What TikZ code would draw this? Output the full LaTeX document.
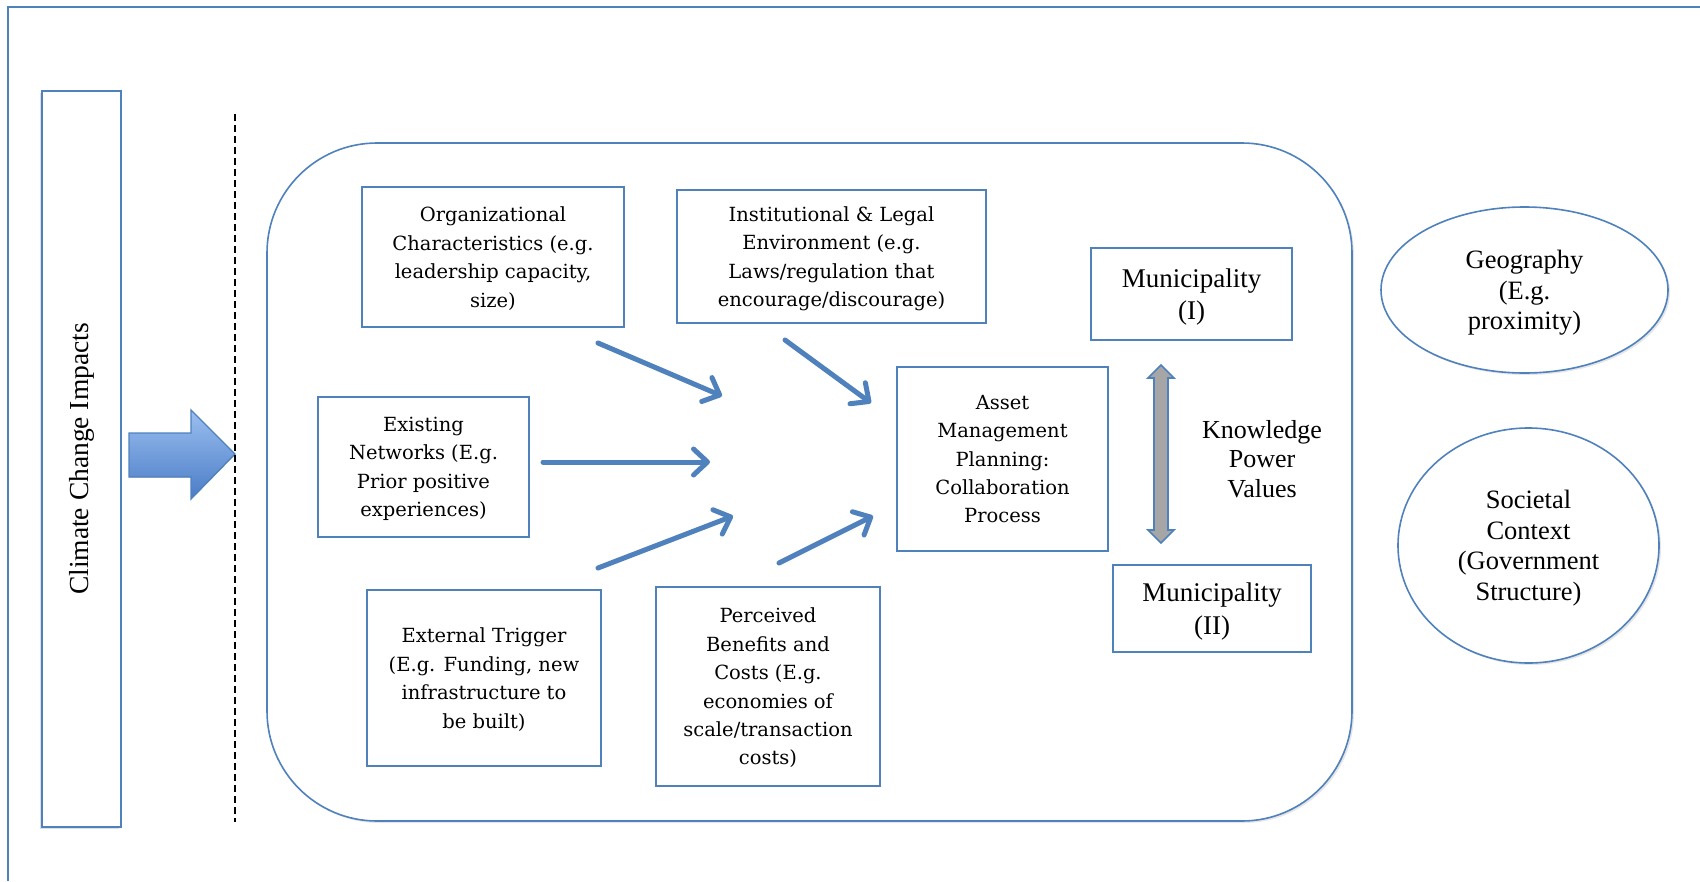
\documentclass[tikz,border=0pt]{standalone}
\usepackage{fontspec}
\setmainfont{Liberation Serif}
\newfontfamily\boxfont{DejaVu Serif}
\usepackage{xcolor}
\usepackage{tikz}
\usetikzlibrary{arrows.meta,shapes.geometric,shadows}

\definecolor{lineblue}{HTML}{4F81BD}
\definecolor{lightblue}{HTML}{9BBFF0}
\definecolor{deepblue}{HTML}{4A7CC6}
\definecolor{linkgrey}{HTML}{A6A6A6}

\begin{document}
\begin{tikzpicture}[x=1pt, y=-1pt,
    factor/.style={draw=lineblue, line width=1.6pt, align=center, inner sep=2pt,
        text depth=0pt, font=\boxfont\fontsize{19.5}{28.4}\selectfont},
    muni/.style={draw=lineblue, line width=1.6pt, align=center, text depth=0pt,
        font=\fontsize{27}{32.5}\selectfont},
    context/.style={ellipse, draw=lineblue, line width=1.6pt, align=center, fill=white,
        text depth=0pt, font=\fontsize{26.5}{30.5}\selectfont,
        drop shadow={shadow xshift=2pt, shadow yshift=-2pt, opacity=.2}},
    flow/.style={draw=lineblue, line width=5pt, line cap=round,
        -{Straight Barb[length=14pt, width=26pt, round]}}]
    \useasboundingbox (0,0) rectangle (1700,881);
    % frame
    \draw[lineblue, line width=2pt] (1700,7) -- (8,7) -- (8,881);
    % impacts
    \node[draw=lineblue, line width=1.6pt, fill=white, rotate=90,
        minimum width=736pt, minimum height=79pt,
        font=\fontsize{27.5}{30}\selectfont,
        drop shadow={shadow xshift=-2pt, shadow yshift=-2pt, opacity=.25}]
        (climate) at (81.5,459) {Climate Change Impacts};
    \filldraw[draw=lineblue, line width=1.4pt, top color=lightblue, bottom color=deepblue]
        (129,433) -- (191,433) -- (191,410) -- (235,454) -- (191,499)
        -- (191,477) -- (129,477) -- cycle;
    \draw[line width=2.5pt, dash pattern=on 7pt off 4pt] (235,114) -- (235,822);
    % collaboration area
    \draw[lineblue, line width=1.6pt, rounded corners=110pt, fill=white,
        drop shadow={shadow xshift=2pt, shadow yshift=-2pt, opacity=.2}]
        (267,143) rectangle (1352,821);
    \node[factor, minimum width=262pt, minimum height=140pt] (org) at (493,257)
        {Organizational\\Characteristics (e.g.\\leadership capacity,\\size)};
    \node[factor, minimum width=309pt, minimum height=133pt] (inst) at (831.5,256.5)
        {Institutional \& Legal\\Environment (e.g.\\Laws/regulation that\\encourage/discourage)};
    \node[factor, minimum width=211pt, minimum height=140pt] (net) at (423.5,467)
        {Existing\\Networks (E.g.\\Prior positive\\experiences)};
    \node[factor, minimum width=211pt, minimum height=184pt] (amp) at (1002.5,459)
        {Asset\\Management\\Planning:\\Collaboration\\Process};
    \node[factor, minimum width=234pt, minimum height=176pt] (trig) at (484,678)
        {External Trigger\\(E.g. Funding, new\\infrastructure to\\be built)};
    \node[factor, minimum width=224pt, minimum height=199pt] (cost) at (768,686.5)
        {Perceived\\Benefits and\\Costs (E.g.\\economies of\\scale/transaction\\costs)};
    \node[muni, minimum width=201pt, minimum height=92pt] (munia) at (1191.5,294)
        {Municipality\\(I)};
    \node[muni, minimum width=198pt, minimum height=87pt] (munib) at (1212,608.5)
        {Municipality\\(II)};
    % knowledge link
    \filldraw[fill=linkgrey, draw=lineblue, line width=1.6pt]
        (1161,365) -- (1174,378) -- (1168,378) -- (1168,530) -- (1174,530)
        -- (1161,543) -- (1148,530) -- (1154,530) -- (1154,378) -- (1148,378) -- cycle;
    \node[align=center, font=\fontsize{26}{29.5}\selectfont] (kpv) at (1262,459)
        {Knowledge\\Power\\Values};
    % context
    \node[context, minimum width=287pt, minimum height=166pt] (geo) at (1524.5,290)
        {Geography\\(E.g.\\proximity)};
    \node[context, minimum width=261pt, minimum height=235pt] (soc) at (1528.5,545.5)
        {Societal\\Context\\(Government\\Structure)};
    % influences
    \coordinate (orgs) at (598,343);  \coordinate (orge) at (722,396);
    \coordinate (insts) at (785,340); \coordinate (inste) at (871,403);
    \coordinate (nets) at (543,462);  \coordinate (nete) at (710,462);
    \coordinate (trigs) at (598,568); \coordinate (trige) at (733,516);
    \coordinate (costs) at (779,563); \coordinate (coste) at (873,516);
    \foreach \s/\e in {orgs/orge, insts/inste, nets/nete, trigs/trige, costs/coste}
        \draw[flow] (\s) -- (\e);
\end{tikzpicture}
\end{document}
